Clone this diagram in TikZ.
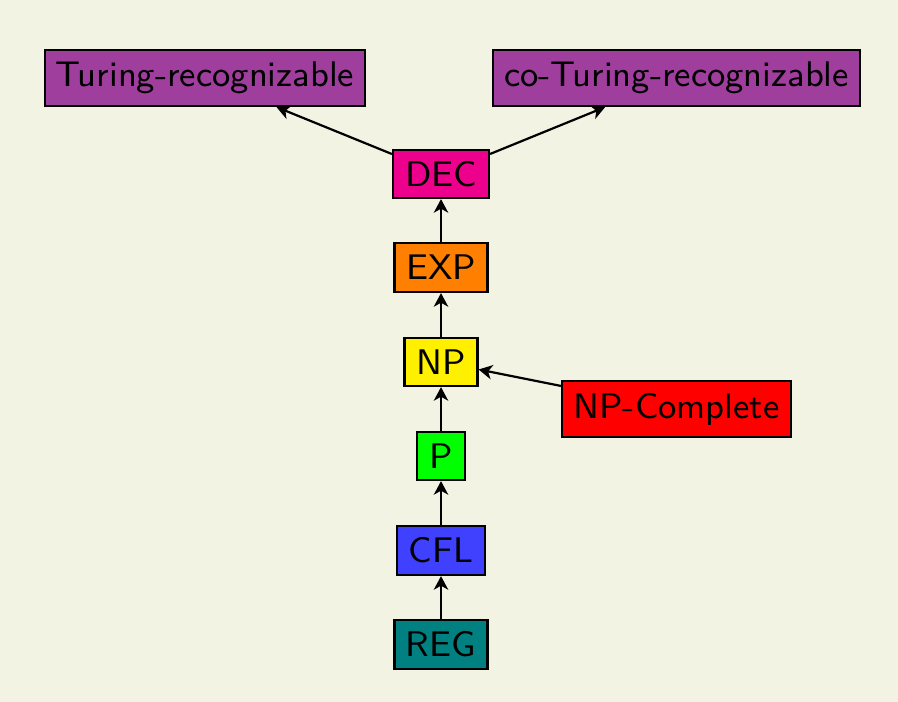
\documentclass[tikz,border=0pt]{standalone}
\usetikzlibrary{arrows.meta}
\definecolor{bg}{RGB}{243,243,227}
\definecolor{cturing}{RGB}{160,62,158}
\definecolor{cdec}{RGB}{236,0,140}
\definecolor{cexp}{RGB}{255,128,0}
\definecolor{cnp}{RGB}{255,240,0}
\definecolor{cp}{RGB}{0,255,0}
\definecolor{ccfl}{RGB}{64,64,255}
\definecolor{creg}{RGB}{0,128,128}
\definecolor{cnpc}{RGB}{255,0,0}
\begin{document}
\begin{tikzpicture}[x=0.25pt,y=-0.25pt,
  cls/.style={draw=black,line width=0.55pt,inner sep=0pt,font=\sffamily\fontsize{8.9}{11}\selectfont,text=black},
  arr/.style={line width=0.55pt,-{Stealth[length=3.4pt,width=3.6pt,inset=1pt]}}]
\fill[bg] (0,0) rectangle (898,702);
\useasboundingbox (0,0) rectangle (898,702);
\node[cls,fill=cturing,minimum width=80pt,minimum height=14pt] (tr) at (205,78) {Turing-recognizable};
\node[cls,fill=cturing,minimum width=91.75pt,minimum height=14pt] (ctr) at (676.5,78) {co-Turing-recognizable};
\node[cls,fill=cdec,minimum width=24pt,minimum height=12pt] (dec) at (441,174) {DEC};
\node[cls,fill=cexp,minimum width=23.25pt,minimum height=12.25pt] (exp) at (441,267.5) {EXP};
\node[cls,fill=cnp,minimum width=18.25pt,minimum height=12pt] (np) at (441,362) {NP};
\node[cls,fill=cnpc,minimum width=57.25pt,minimum height=14pt] (npc) at (676.5,409) {NP-Complete};
\node[cls,fill=cp,minimum width=12pt,minimum height=12pt] (p) at (441,456) {P};
\node[cls,fill=ccfl,minimum width=22pt,minimum height=12.25pt] (cfl) at (441,550.5) {CFL};
\node[cls,fill=creg,minimum width=23.25pt,minimum height=12.25pt] (reg) at (441,644.5) {REG};
\draw[arr] (dec) -- (tr);
\draw[arr] (dec) -- (ctr);
\draw[arr] (exp) -- (dec);
\draw[arr] (np) -- (exp);
\draw[arr] (npc) -- (np);
\draw[arr] (p) -- (np);
\draw[arr] (cfl) -- (p);
\draw[arr] (reg) -- (cfl);
\end{tikzpicture}
\end{document}
